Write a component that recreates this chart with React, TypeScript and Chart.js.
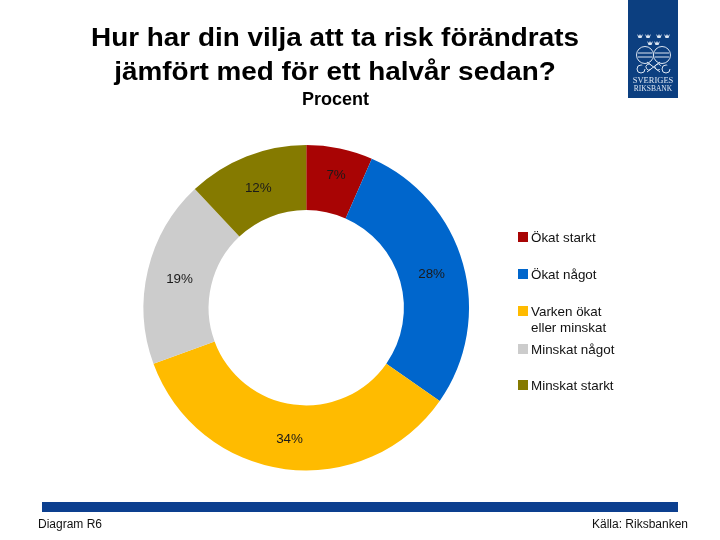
import React, { useEffect, useRef } from "react";
import { Chart, registerables } from "chart.js";

Chart.register(...registerables);

const categories = ["Ökat starkt", "Ökat något", "Varken ökat\neller minskat", "Minskat något", "Minskat starkt"];
const values = [6.6, 28.1, 34.7, 18.6, 12.0];
const sliceLabels = ["7%", "28%", "34%", "19%", "12%"];
const colors = ["#A80404", "#0066CC", "#FFBB00", "#CCCCCC", "#857A00"];
const titleLines = ["Hur har din vilja att ta risk förändrats", "jämfört med för ett halvår sedan?"];
const subtitle = "Procent";
const footerLeft = "Diagram R6";
const footerRight = "Källa: Riksbanken";
const logoLines = ["SVERIGES", "RIKSBANK"];

const FONT = '"Liberation Sans", Arial, sans-serif';
const legendTops = [237, 274, 311, 349, 385];

function crown(c: CanvasRenderingContext2D, x: number, y: number) {
  c.beginPath();
  c.moveTo(x - 3, y - 2);
  c.lineTo(x - 1.5, y + 2);
  c.lineTo(x + 1.5, y + 2);
  c.lineTo(x + 3, y - 2);
  c.lineTo(x + 1, y);
  c.lineTo(x, y - 2);
  c.lineTo(x - 1, y);
  c.closePath();
  c.fill();
}

const decorations = {
  id: "decorations",
  afterDraw(chart: any) {
    const c = chart.ctx as CanvasRenderingContext2D;
    c.save();
    c.textBaseline = "middle";
    c.fillStyle = "#000";

    // Title (the source is slightly stretched horizontally)
    c.textAlign = "center";
    c.font = `bold 26px ${FONT}`;
    titleLines.forEach((line, i) => {
      c.save();
      c.translate(335, 39 + i * 34);
      c.scale(1.072, 1);
      c.fillText(line, 0, 0);
      c.restore();
    });
    c.font = `bold 18px ${FONT}`;
    c.fillText(subtitle, 335.5, 100);

    // Slice labels
    c.font = `13.4px ${FONT}`;
    c.fillStyle = "#1a1a1a";
    const meta = chart.getDatasetMeta(0);
    meta.data.forEach((arc: any, i: number) => {
      const p = arc.getCenterPoint();
      const dx = i === 0 ? 3 : 0;
      const dy = i === 0 ? -5 : 2;
      c.fillText(sliceLabels[i], p.x + dx, p.y + dy);
    });

    // Legend
    c.textAlign = "left";
    c.font = `13.4px ${FONT}`;
    categories.forEach((name, i) => {
      const y = legendTops[i];
      c.fillStyle = colors[i];
      c.fillRect(518, y - 5, 10, 10);
      c.fillStyle = "#111";
      name.split("\n").forEach((line, j) => c.fillText(line, 531, y + 1 + j * 16));
    });

    // Footer band and notes
    c.fillStyle = "#0C3F8F";
    c.fillRect(42, 502, 636, 10);
    c.fillStyle = "#111";
    c.font = `12px ${FONT}`;
    c.fillText(footerLeft, 38, 525);
    c.textAlign = "right";
    c.fillText(footerRight, 688, 525);

    // Logo
    c.fillStyle = "#0C3F80";
    c.fillRect(628, 0, 50, 98);
    c.strokeStyle = "#DDE6F2";
    c.fillStyle = "#DDE6F2";
    c.lineWidth = 1;
    crown(c, 640, 36);
    crown(c, 648, 36);
    crown(c, 659, 36);
    crown(c, 667, 36);
    crown(c, 650, 43);
    crown(c, 657, 43);
    [645, 662].forEach((x, k) => {
      c.beginPath();
      c.arc(x, 55, 8.5, 0, Math.PI * 2);
      c.stroke();
      c.beginPath();
      c.moveTo(x - 7, 53);
      c.lineTo(x + 7, 53);
      c.moveTo(x - 7, 57);
      c.lineTo(x + 7, 57);
      c.stroke();
      c.beginPath();
      c.arc(k === 0 ? x - 4 : x + 4, 69, 4, 0, Math.PI * 1.6);
      c.stroke();
      c.beginPath();
      c.arc(k === 0 ? x + 4 : x - 4, 67, 3, Math.PI * 0.3, Math.PI * 1.9);
      c.stroke();
    });
    c.beginPath();
    c.moveTo(647, 62);
    c.lineTo(660, 72);
    c.moveTo(660, 62);
    c.lineTo(647, 72);
    c.stroke();
    c.textAlign = "center";
    c.font = `8.5px "Liberation Serif", serif`;
    c.fillText(logoLines[0], 653, 81);
    c.font = `7.5px "Liberation Serif", serif`;
    c.fillText(logoLines[1], 653, 89);
    c.restore();
  },
};

export default function App() {
  const ref = useRef<HTMLCanvasElement>(null);
  useEffect(() => {
    const chart = new Chart(ref.current!, {
      type: "doughnut",
      data: {
        labels: categories.map((s) => s.replace("\n", " ")),
        datasets: [{ data: values, backgroundColor: colors, borderWidth: 0 }],
      },
      options: {
        animation: false,
        responsive: false,
        cutout: "60%",
        layout: { padding: { left: 143.5, right: 251, top: 145, bottom: 69.5 } },
        plugins: { legend: { display: false }, tooltip: { enabled: false }, title: { display: false } },
      },
      plugins: [decorations],
    });
    return () => chart.destroy();
  }, []);
  return (
    <canvas
      ref={ref}
      width={720}
      height={540}
      style={{ position: "absolute", left: 0, top: 0, width: 720, height: 540, background: "#fff" }}
    />
  );
}
